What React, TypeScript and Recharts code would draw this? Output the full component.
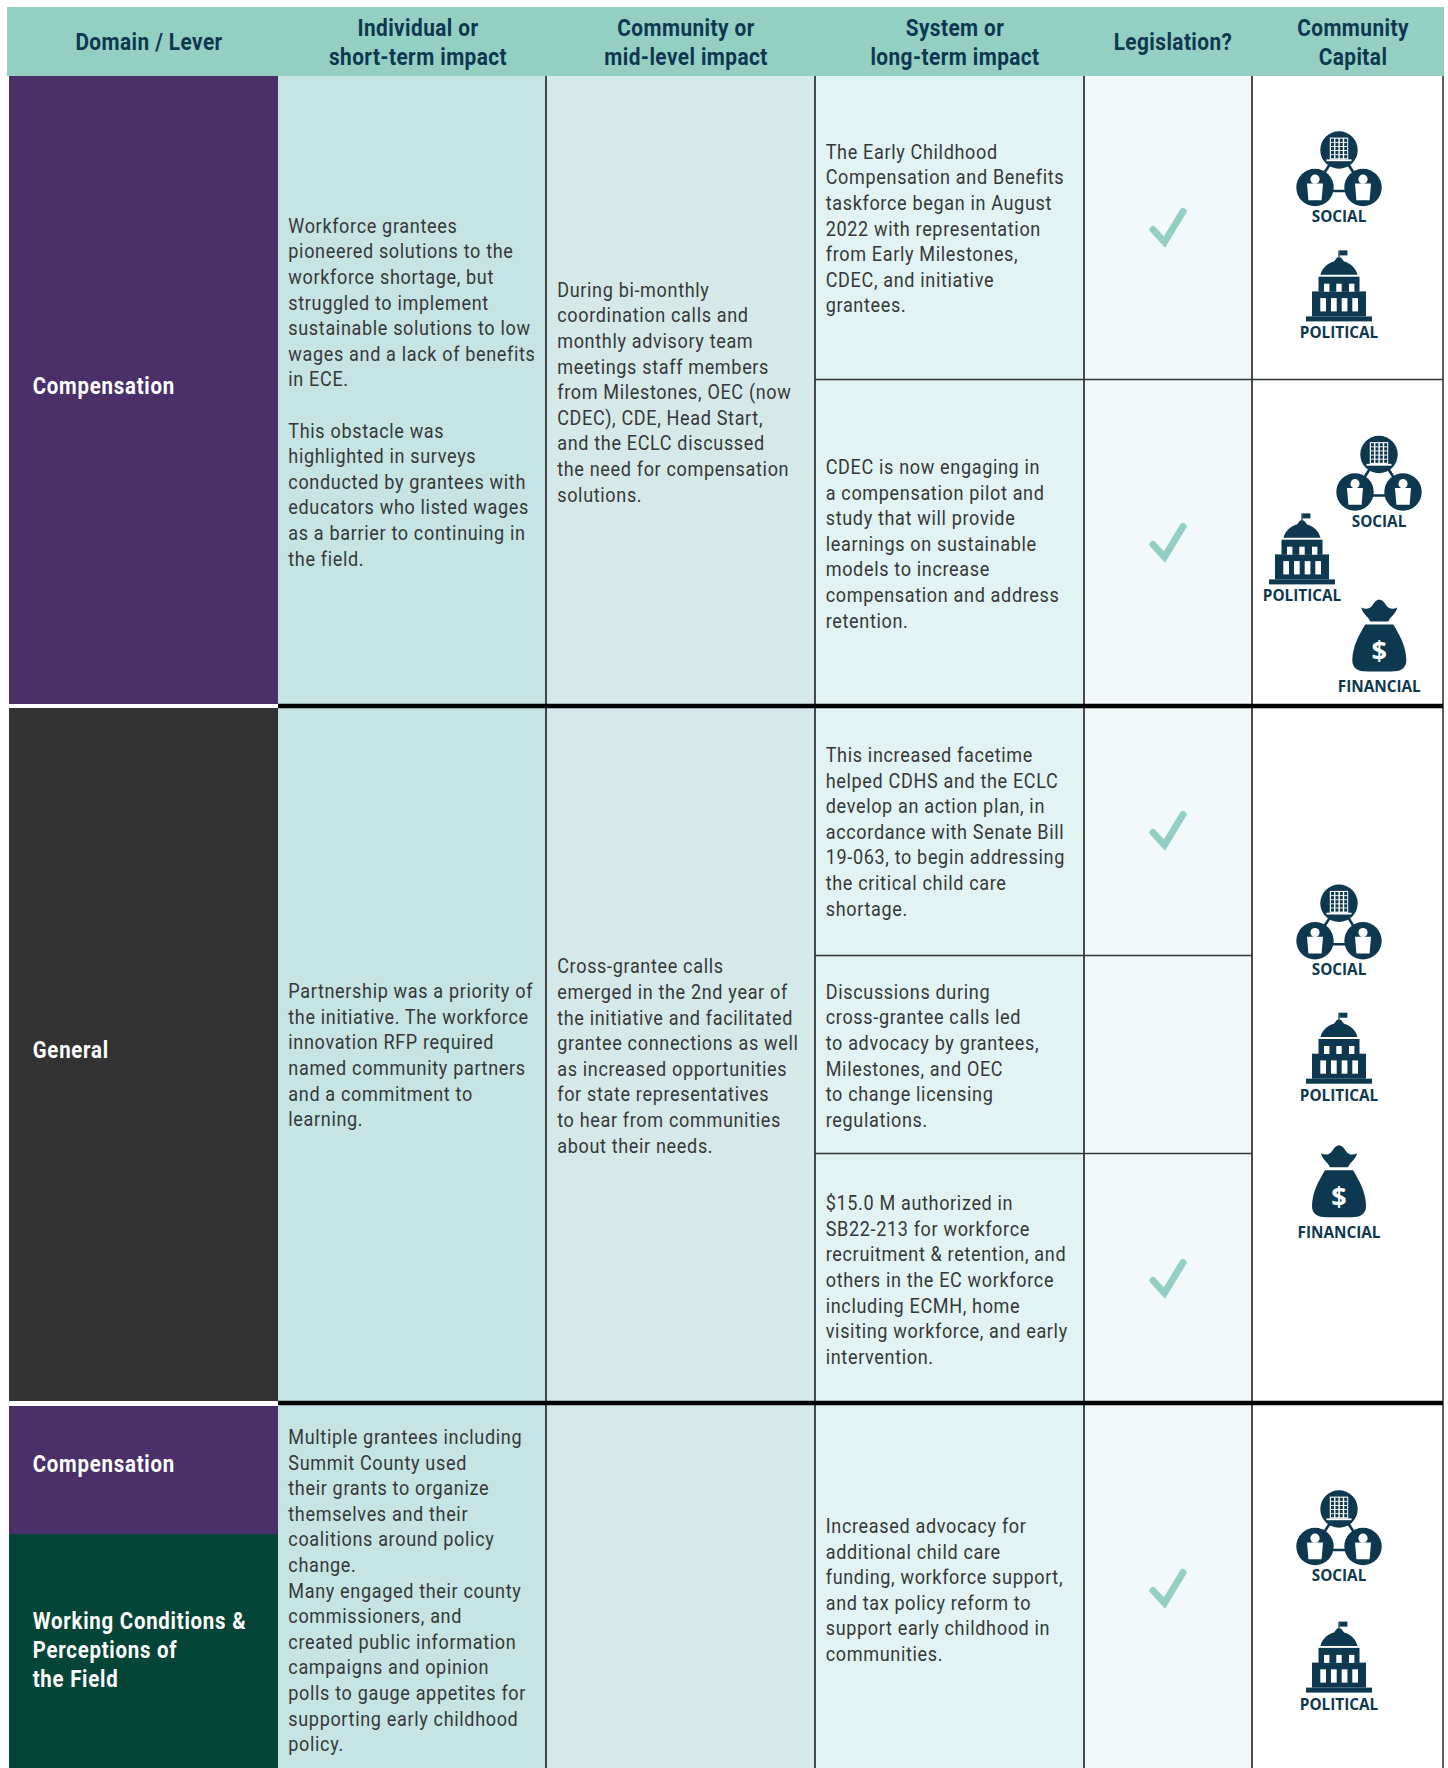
import { ScatterChart, Scatter, XAxis, YAxis, ReferenceArea, ReferenceLine } from 'recharts';

const WIDTH = 1448;
const HEIGHT = 1768;

const headerTitles = [
  ['Domain / Lever'],
  ['Individual or', 'short-term impact'],
  ['Community or', 'mid-level impact'],
  ['System or', 'long-term impact'],
  ['Legislation?'],
  ['Community', 'Capital'],
];

const compensationDomain = ['Compensation'];
const generalDomain = ['General'];
const workingConditionsDomain = ['Working Conditions &', 'Perceptions of', 'the Field'];

const compensationIndividual = [
  'Workforce grantees',
  'pioneered solutions to the',
  'workforce shortage, but',
  'struggled to implement',
  'sustainable solutions to low',
  'wages and a lack of benefits',
  'in ECE.',
  '',
  'This obstacle was',
  'highlighted in surveys',
  'conducted by grantees with',
  'educators who listed wages',
  'as a barrier to continuing in',
  'the field.',
];
const compensationCommunity = [
  'During bi-monthly',
  'coordination calls and',
  'monthly advisory team',
  'meetings staff members',
  'from Milestones, OEC (now',
  'CDEC), CDE, Head Start,',
  'and the ECLC discussed',
  'the need for compensation',
  'solutions.',
];
const compensationSystemA = [
  'The Early Childhood',
  'Compensation and Benefits',
  'taskforce began in August',
  '2022 with representation',
  'from Early Milestones,',
  'CDEC, and initiative',
  'grantees.',
];
const compensationSystemB = [
  'CDEC is now engaging in',
  'a compensation pilot and',
  'study that will provide',
  'learnings on sustainable',
  'models to increase',
  'compensation and address',
  'retention.',
];
const generalIndividual = [
  'Partnership was a priority of',
  'the initiative. The workforce',
  'innovation RFP required',
  'named community partners',
  'and a commitment to',
  'learning.',
];
const generalCommunity = [
  'Cross-grantee calls',
  'emerged in the 2nd year of',
  'the initiative and facilitated',
  'grantee connections as well',
  'as increased opportunities',
  'for state representatives',
  'to hear from communities',
  'about their needs.',
];
const generalSystemA = [
  'This increased facetime',
  'helped CDHS and the ECLC',
  'develop an action plan, in',
  'accordance with Senate Bill',
  '19-063, to begin addressing',
  'the critical child care',
  'shortage.',
];
const generalSystemB = [
  'Discussions during',
  'cross-grantee calls led',
  'to advocacy by grantees,',
  'Milestones, and OEC',
  'to change licensing',
  'regulations.',
];
const generalSystemC = [
  '$15.0 M authorized in',
  'SB22-213 for workforce',
  'recruitment & retention, and',
  'others in the EC workforce',
  'including ECMH, home',
  'visiting workforce, and early',
  'intervention.',
];
const policyIndividual = [
  'Multiple grantees including',
  'Summit County used',
  'their grants to organize',
  'themselves and their',
  'coalitions around policy',
  'change.',
  'Many engaged their county',
  'commissioners, and',
  'created public information',
  'campaigns and opinion',
  'polls to gauge appetites for',
  'supporting early childhood',
  'policy.',
];
const policySystem = [
  'Increased advocacy for',
  'additional child care',
  'funding, workforce support,',
  'and tax policy reform to',
  'support early childhood in',
  'communities.',
];

// layout, in reference pixels
const colEdges = [9, 278, 546, 815, 1084, 1252, 1443];
const rowEdges = [7, 76, 379.5, 706, 955.5, 1153.5, 1403, 1768];

const NAVY = '#0e3750';
const BODY_PITCH = 25.6;
const bodyX = [0, 288.3, 557.2, 825.7];

const headerBlocks = [
  { lines: headerTitles[0], x: 149, y: 41.5 },
  { lines: headerTitles[1], x: 418, y: 27.7 },
  { lines: headerTitles[2], x: 686, y: 27.7 },
  { lines: headerTitles[3], x: 955, y: 27.7 },
  { lines: headerTitles[4], x: 1173, y: 41.5 },
  { lines: headerTitles[5], x: 1353, y: 27.7 },
];
const domainBlocks = [
  { lines: compensationDomain, x: 32.7, y: 385.5 },
  { lines: generalDomain, x: 32.7, y: 1049.5 },
  { lines: compensationDomain, x: 32.7, y: 1463.5 },
  { lines: workingConditionsDomain, x: 32.7, y: 1620.5 },
];
const bodyBlocks = [
  { lines: compensationIndividual, x: bodyX[1], y: 225.8 },
  { lines: compensationCommunity, x: bodyX[2], y: 289.8 },
  { lines: compensationSystemA, x: bodyX[3], y: 151.8 },
  { lines: compensationSystemB, x: bodyX[3], y: 467 },
  { lines: generalIndividual, x: bodyX[1], y: 991.3 },
  { lines: generalCommunity, x: bodyX[2], y: 966.5 },
  { lines: generalSystemA, x: bodyX[3], y: 755 },
  { lines: generalSystemB, x: bodyX[3], y: 991.8 },
  { lines: generalSystemC, x: bodyX[3], y: 1203.3 },
  { lines: policyIndividual, x: bodyX[1], y: 1437 },
  { lines: policySystem, x: bodyX[3], y: 1526 },
];

const checkPoints = [
  { x: 1168, y: 227.5 },
  { x: 1168, y: 542.5 },
  { x: 1168, y: 830.5 },
  { x: 1168, y: 1278.5 },
  { x: 1168, y: 1588.5 },
];
const socialPoints = [
  { x: 1339, y: 216 },
  { x: 1379, y: 520.5 },
  { x: 1339, y: 969.3 },
  { x: 1339, y: 1575 },
];
const politicalPoints = [
  { x: 1339, y: 332.4 },
  { x: 1302, y: 595.4 },
  { x: 1339, y: 1094.7 },
  { x: 1339, y: 1703.6 },
];
const financialPoints = [
  { x: 1379.3, y: 686.4 },
  { x: 1339, y: 1232.3 },
];

const toPoints = (blocks: { lines: string[]; x: number; y: number }[], pitch: number) =>
  blocks.flatMap(b =>
    b.lines
      .map((text, i) => ({ x: b.x, y: b.y + i * pitch, text }))
      .filter(p => p.text !== ''),
  );

const labelFont = '"Open Sans", sans-serif';

const BodyText = ({ cx, cy, payload }: any) => (
  <text
    transform={`translate(${cx},${cy}) scale(0.88,1)`}
    dominantBaseline="central"
    fontFamily="Roboto, sans-serif"
    fontSize={20.5}
    letterSpacing={0.75}
    fill="#363838"
  >
    {payload.text}
  </text>
);

const HeaderText = ({ cx, cy, payload }: any) => (
  <text
    transform={`translate(${cx},${cy}) scale(0.85,1)`}
    dominantBaseline="central"
    textAnchor="middle"
    fontFamily="Roboto, sans-serif"
    fontWeight={700}
    fontSize={24.5}
    letterSpacing={0.5}
    fill={NAVY}
  >
    {payload.text}
  </text>
);

const DomainText = ({ cx, cy, payload }: any) => (
  <text
    transform={`translate(${cx},${cy}) scale(0.85,1)`}
    dominantBaseline="central"
    fontFamily="Roboto, sans-serif"
    fontWeight={700}
    fontSize={24}
    letterSpacing={0.9}
    fill="#ffffff"
  >
    {payload.text}
  </text>
);

const Check = ({ cx, cy }: any) => (
  <polyline
    transform={`translate(${cx},${cy})`}
    points="-15,2 -3.5,14.5 15,-16"
    fill="none"
    stroke="#93d0c3"
    strokeWidth={7}
    strokeLinecap="round"
    strokeLinejoin="miter"
  />
);

const IconLabel = ({ text }: { text: string }) => (
  <text
    textAnchor="middle"
    dominantBaseline="central"
    fontFamily={labelFont}
    fontWeight={700}
    fontSize={15.3}
    fill={NAVY}
  >
    {text}
  </text>
);

const Person = ({ x, y }: { x: number; y: number }) => (
  <g transform={`translate(${x},${y})`}>
    <circle r={18.7} fill={NAVY} />
    <circle cy={-8.3} r={4.6} fill="#fff" />
    <path d="M-8,-4 L8,-4 L6.6,12.7 L-6.6,12.7 Z" fill="#fff" />
  </g>
);

const windowCols = [-8, -3.6, 0.8, 5.2];
const windowRows = [-11.3, -7.2, -3.1, 1, 5.1];

const SocialIcon = ({ cx, cy }: any) => (
  <g transform={`translate(${cx},${cy})`}>
    <IconLabel text="SOCIAL" />
    <g transform="translate(0,-66)">
      <path d="M0,0 L-24,37.5 L-24,41 L24,41 L24,37.5 Z" fill="none" stroke={NAVY} strokeWidth={2.6} />
      <Person x={-24} y={37.5} />
      <Person x={24} y={37.5} />
      <circle r={18.7} fill={NAVY} />
      <rect x={-9.2} y={-12.4} width={18.4} height={22} fill="#fff" />
      {windowCols.flatMap(c =>
        windowRows.map(r => <rect key={`${c}-${r}`} x={c} y={r} width={3} height={3.2} fill={NAVY} />),
      )}
      <rect x={-12.5} y={9.4} width={25} height={1.8} fill="#fff" />
    </g>
  </g>
);

const PoliticalIcon = ({ cx, cy }: any) => (
  <g transform={`translate(${cx},${cy})`}>
    <IconLabel text="POLITICAL" />
    <rect x={-0.6} y={-82} width={1.2} height={9} fill={NAVY} />
    <rect x={0.4} y={-82} width={8} height={5} fill={NAVY} />
    <path d="M-18.5,-57.7 C-17,-65 -10,-70 -5,-71 L-2,-75 L2,-75 L5,-71 C10,-70 17,-65 18.5,-57.7 Z" fill={NAVY} />
    <rect x={-20.5} y={-55.7} width={41} height={15} fill={NAVY} />
    <rect x={-27} y={-41} width={54} height={25} fill={NAVY} />
    <rect x={-33} y={-16} width={66} height={5} fill={NAVY} />
    {[-15, -2.7, 10].map(x => (
      <rect key={x} x={x} y={-48.7} width={5.4} height={8} fill="#fff" />
    ))}
    {[-18.7, -8, 2.7, 13.3].map(x => (
      <rect key={x} x={x} y={-34.3} width={5.7} height={13.3} fill="#fff" />
    ))}
  </g>
);

const FinancialIcon = ({ cx, cy }: any) => (
  <g transform={`translate(${cx},${cy})`}>
    <IconLabel text="FINANCIAL" />
    <path
      d="M-14,-62 L14,-62 C20,-52 27,-40 27,-26 C27,-18 21,-15 12,-15 L-12,-15 C-21,-15 -27,-18 -27,-26 C-27,-40 -20,-52 -14,-62 Z"
      fill={NAVY}
    />
    <path
      d="M-9,-65 L9,-65 C11,-70 17,-73 18,-79 C14,-77 10,-77 7,-81 C5,-85 2,-87 0,-87 C-2,-87 -5,-85 -7,-81 C-10,-77 -14,-77 -18,-79 C-17,-73 -11,-70 -9,-65 Z"
      fill={NAVY}
    />
    <text
      y={-37}
      textAnchor="middle"
      dominantBaseline="central"
      fontFamily={labelFont}
      fontWeight={700}
      fontSize={27}
      fill="#fff"
    >
      $
    </text>
  </g>
);

const Cell = (x1: number, x2: number, y1: number, y2: number, fill: string) => (
  <ReferenceArea key={`${x1}-${y1}-${fill}`} x1={x1} x2={x2} y1={y1} y2={y2} fill={fill} fillOpacity={1} stroke="none" />
);

const Rule = (x1: number, y1: number, x2: number, y2: number, stroke: string, width: number) => (
  <ReferenceLine
    key={`${x1}-${y1}-${x2}-${y2}`}
    segment={[{ x: x1, y: y1 }, { x: x2, y: y2 }]}
    stroke={stroke}
    strokeWidth={width}
  />
);

export default function App() {
  const [c0, c1, c2, c3, c4, c5, c6] = colEdges;
  const [r0, r1, r2, r3, r4, r5, r6, r7] = rowEdges;
  return (
    <div style={{ position: 'absolute', left: 0, top: 0, width: WIDTH, height: HEIGHT, background: '#fff' }}>
      <ScatterChart width={WIDTH} height={HEIGHT} margin={{ top: 0, right: 0, bottom: 0, left: 0 }}>
        <XAxis type="number" dataKey="x" domain={[0, WIDTH]} hide />
        <YAxis type="number" dataKey="y" domain={[0, HEIGHT]} reversed hide />

        {Cell(c0 - 2, c6 + 1, r0, r1, '#93d0c3')}
        {Cell(c0, c1, r1, r3 - 2, '#4a2f69')}
        {Cell(c0, c1, r3 + 2, r6 - 2, '#323332')}
        {Cell(c0, c1, r6 + 3, 1534, '#4a2f69')}
        {Cell(c0, c1, 1534, r7, '#054538')}
        {Cell(c1, c2, r1, r7, '#c5e4e3')}
        {Cell(c2, c3, r1, r7, '#d5e9e8')}
        {Cell(c3, c4, r1, r7, '#e1f3f2')}
        {Cell(c4, c5, r1, r7, '#f3f9f9')}

        {Rule(c2, r1, c2, r7, '#1c1f1f', 1.6)}
        {Rule(c3, r1, c3, r7, '#1c1f1f', 1.6)}
        {Rule(c4, r1, c4, r7, '#1c1f1f', 1.6)}
        {Rule(c5, r1, c5, r7, '#1c1f1f', 1.6)}
        {Rule(c6, r1, c6, r7, '#303636', 1.6)}
        {Rule(c3, r2, c6, r2, '#303636', 1.4)}
        {Rule(c3, r4, c5, r4, '#303636', 1.4)}
        {Rule(c3, r5, c5, r5, '#303636', 1.4)}
        {Rule(c1, r3, c6, r3, '#000000', 4.6)}
        {Rule(c1, r6, c6, r6, '#000000', 4.6)}

        <Scatter data={toPoints(headerBlocks, 29.5)} shape={HeaderText} isAnimationActive={false} />
        <Scatter data={toPoints(domainBlocks, 28.8)} shape={DomainText} isAnimationActive={false} />
        <Scatter data={toPoints(bodyBlocks, BODY_PITCH)} shape={BodyText} isAnimationActive={false} />
        <Scatter data={checkPoints} shape={Check} isAnimationActive={false} />
        <Scatter data={socialPoints} shape={SocialIcon} isAnimationActive={false} />
        <Scatter data={politicalPoints} shape={PoliticalIcon} isAnimationActive={false} />
        <Scatter data={financialPoints} shape={FinancialIcon} isAnimationActive={false} />
      </ScatterChart>
    </div>
  );
}
